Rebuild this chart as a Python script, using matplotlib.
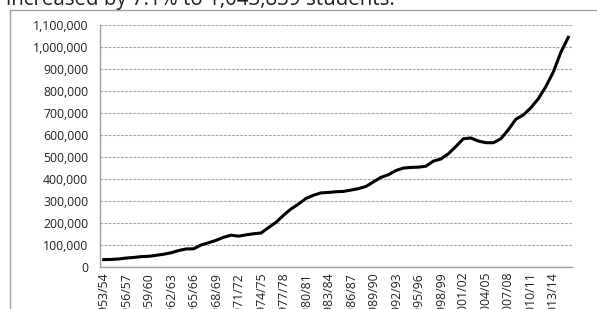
import matplotlib.pyplot as plt
from matplotlib.patches import Rectangle
from matplotlib.ticker import FuncFormatter

plt.rcParams['font.family'] = ['Open Sans', 'DejaVu Sans']

years = ["%d/%02d" % (y, (y + 1) % 100) for y in range(1953, 2016)]
students = [33675, 34232, 36494, 40666, 43391, 47245, 48486, 53107, 58086, 64705,
            74814, 82045, 82709, 100262, 110315, 121362, 134959, 144708, 140126, 146097,
            151066, 154580, 179344, 203068, 235509, 263938, 286343, 311882, 326299, 336985,
            338894, 342113, 343777, 349609, 356187, 366354, 386851, 407529, 419585, 438618,
            449749, 452635, 453787, 457984, 481280, 490933, 514723, 547867, 582996, 586323,
            572509, 565039, 564766, 582984, 623805, 671616, 690923, 723277, 764495, 819644,
            886052, 974926, 1043839]
title = "increased by 7.1% to 1,043,839 students."

W, H = 597, 309
fig = plt.figure(figsize=(W / 100, H / 100), dpi=100)
ax = fig.add_axes([100 / W, 1 - 267 / H, 472 / W, 242 / H])

x = list(range(len(students)))
ax.plot(x, students, color='black', lw=2.2, solid_joinstyle='round')

ax.set_xlim(-0.5, len(students) - 0.5)
ax.set_ylim(0, 1100000)
ax.set_yticks(range(0, 1100001, 100000))
ax.yaxis.set_major_formatter(FuncFormatter(lambda v, p: "{:,.0f}".format(v)))
ax.set_xticks(x[::3])
ax.set_xticklabels(years[::3], rotation=90, fontsize=8.8)
ax.tick_params(axis='y', labelsize=8.8, length=0, pad=8.5, colors='#222222')
ax.tick_params(axis='x', length=0, pad=3.5, colors='#222222')
ax.grid(axis='y', color='#a6a6a6', ls=(0, (2.5, 1.2)), lw=0.8)
ax.set_axisbelow(True)
for s in ['top', 'right']:
    ax.spines[s].set_visible(False)
for s in ['left', 'bottom']:
    ax.spines[s].set_color('#a0a0a0')
    ax.spines[s].set_linewidth(1.0)

# chart frame (runs off the right and bottom edge of the crop)
fig.patches.append(Rectangle((10 / W, -0.1), 1.0, 1 - 10 / H + 0.1, transform=fig.transFigure,
                             fill=False, edgecolor='#a0a0a0', lw=1.0))
fig.text(6 / W, 1 - 5 / H, title, fontsize=14.8, ha='left', va='baseline', color='#222222')

fig.savefig('out.png', dpi=100)
